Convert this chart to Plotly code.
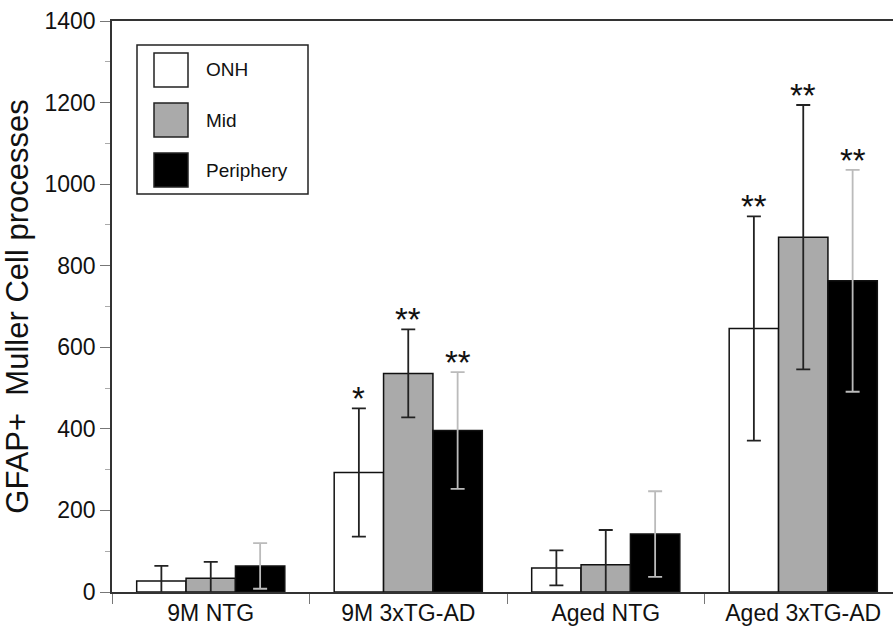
import plotly.graph_objects as go

categories = ["9M NTG", "9M 3xTG-AD", "Aged NTG", "Aged 3xTG-AD"]
series_names = ["ONH", "Mid", "Periphery"]
onh_vals = [27, 293, 59, 646]
onh_errs = [37, 157, 43, 275]
mid_vals = [34, 536, 67, 870]
mid_errs = [40, 108, 85, 324]
per_vals = [64, 396, 142, 763]
per_errs = [56, 143, 105, 272]
onh_stars = ["", "*", "", "**"]
mid_stars = ["", "**", "", "**"]
per_stars = ["", "**", "", "**"]
y_ticks = [0, 200, 400, 600, 800, 1000, 1200, 1400]

FONT = "Liberation Sans, Arial, sans-serif"
fills = ["#ffffff", "#aaaaaa", "#000000"]
err_colors = ["#222222", "#222222", "#bbbbbb"]
vals = [onh_vals, mid_vals, per_vals]
errs = [onh_errs, mid_errs, per_errs]
stars = [onh_stars, mid_stars, per_stars]

fig = go.Figure()
for j in range(3):
    fig.add_trace(go.Bar(
        x=categories, y=vals[j], name=series_names[j],
        marker=dict(color=fills[j], line=dict(color="#111111", width=1.5)),
        error_y=dict(type="data", array=errs[j], color=err_colors[j],
                     thickness=1.8, width=7),
        cliponaxis=False,
    ))

# significance asterisks
offsets = [-0.25, 0.0, 0.25]
for j in range(3):
    for i in range(len(categories)):
        if stars[j][i]:
            fig.add_annotation(x=i + offsets[j], y=vals[j][i] + errs[j][i],
                               xref="x", yref="y", text=stars[j][i],
                               showarrow=False, yanchor="bottom", yshift=-11,
                               font=dict(family=FONT, size=33, color="#111111"))

# custom legend (paper coordinates derived from pixel layout)
L, R, T, B = 112, 893, 21, 592
def px(xp):
    return (xp - L) / (R - L)
def py(yp):
    return (B - yp) / (B - T)

fig.add_shape(type="rect", xref="paper", yref="paper",
              x0=px(137), x1=px(308), y0=py(194), y1=py(45),
              line=dict(color="#222222", width=1.5), fillcolor="white")
sw_tops = [53, 103, 153]
for j in range(3):
    fig.add_shape(type="rect", xref="paper", yref="paper",
                  x0=px(154), x1=px(188), y0=py(sw_tops[j] + 34), y1=py(sw_tops[j]),
                  line=dict(color="#222222", width=1.5), fillcolor=fills[j])
    fig.add_annotation(xref="paper", yref="paper", x=px(204), y=py(sw_tops[j] + 17),
                       text=series_names[j], showarrow=False,
                       xanchor="left", yanchor="middle",
                       font=dict(family=FONT, size=19, color="#111111"))

cat_w = 197.5
fig.update_layout(
    width=893, height=633,
    margin=dict(l=L, r=893 - R, t=T, b=633 - B, pad=0),
    paper_bgcolor="white", plot_bgcolor="white",
    barmode="group", bargap=0.25, bargroupgap=0,
    showlegend=False,
    font=dict(family=FONT, color="#111111"),
    xaxis=dict(
        range=[-0.5, -0.5 + (R - L) / cat_w],
        showline=True, linecolor="#333333", linewidth=1.5, mirror=True,
        ticks="outside", ticklen=10, tickcolor="#777777", tickwidth=1.2,
        tickson="boundaries", showgrid=False, zeroline=False,
        tickfont=dict(family=FONT, size=23, color="#111111"),
    ),
    yaxis=dict(
        range=[0, 1400], tickvals=y_ticks,
        showline=True, linecolor="#333333", linewidth=1.5,
        ticks="outside", ticklen=10, tickcolor="#777777", tickwidth=1.2,
        minor=dict(dtick=100, ticks="outside", ticklen=5, tickcolor="#aaaaaa", tickwidth=1),
        showgrid=False, zeroline=False,
        tickfont=dict(family=FONT, size=23, color="#111111"),
        title=dict(text="GFAP+  Muller Cell processes", standoff=12,
                   font=dict(family=FONT, size=31, color="#111111")),
    ),
)

fig.write_html("out.html", config={"displayModeBar": False},
               post_script="document.body.style.margin='0';document.body.style.overflow='hidden';")
